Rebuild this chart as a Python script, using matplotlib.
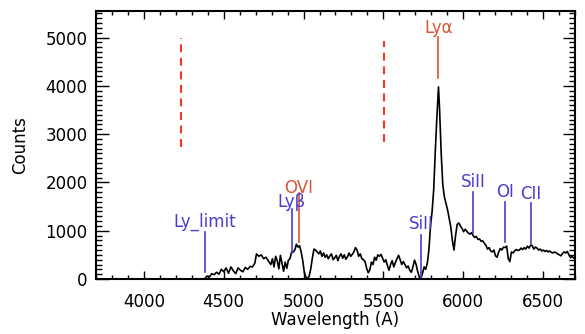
import matplotlib
matplotlib.use("Agg")
import matplotlib.pyplot as plt
from matplotlib.ticker import MultipleLocator

# Spectrum (wavelength in Angstrom, counts)
wave = [4380, 4395, 4410, 4425, 4440, 4455, 4470, 4485, 4500, 4515, 4530, 4545, 4560, 4575,
        4590, 4605, 4620, 4635, 4650, 4665, 4680, 4695, 4705, 4720, 4735, 4750, 4765, 4780,
        4795, 4805, 4815, 4825, 4835, 4845, 4855, 4865, 4875, 4885, 4895, 4905, 4915, 4925,
        4935, 4945, 4955, 4965, 4975, 4985, 4995, 5005, 5015, 5025, 5035, 5045, 5055, 5065,
        5075, 5085, 5095, 5105, 5115, 5125, 5135, 5145, 5155, 5165, 5175, 5185, 5195, 5205,
        5215, 5225, 5235, 5245, 5255, 5265, 5275, 5285, 5295, 5305, 5315, 5325, 5335, 5345,
        5355, 5365, 5375, 5385, 5395, 5405, 5415, 5425, 5435, 5445, 5455, 5465, 5475, 5485,
        5495, 5505, 5515, 5525, 5535, 5545, 5555, 5565, 5575, 5585, 5595, 5605, 5615, 5625,
        5635, 5645, 5655, 5665, 5675, 5685, 5695, 5705, 5715, 5725, 5735, 5745, 5755, 5765,
        5775, 5785, 5795, 5805, 5815, 5825, 5835, 5845, 5852, 5862, 5872, 5882, 5892, 5902,
        5912, 5922, 5932, 5942, 5952, 5962, 5972, 5982, 5992, 6002, 6012, 6022, 6032, 6042,
        6052, 6062, 6072, 6082, 6092, 6102, 6112, 6122, 6132, 6142, 6152, 6162, 6172, 6182,
        6192, 6202, 6212, 6222, 6232, 6242, 6252, 6262, 6272, 6282, 6292, 6302, 6312, 6322,
        6332, 6342, 6352, 6362, 6372, 6382, 6392, 6402, 6412, 6422, 6432, 6442, 6452, 6462,
        6472, 6482, 6492, 6502, 6512, 6522, 6532, 6542, 6552, 6562, 6572, 6582, 6592, 6602,
        6612, 6622, 6632, 6642, 6652, 6662, 6672, 6682, 6692, 6700]
counts = [0, 60, 40, 110, 90, 140, 100, 200, 150, 230, 120, 250, 170, 110,
          230, 180, 150, 240, 200, 260, 250, 330, 520, 470, 500, 420, 450, 370,
          300, 420, 250, 470, 380, 210, 490, 330, 160, 350, 220, 390, 420, 560,
          560, 600, 720, 660, 690, 560, 380, 130, 40, 0, 60, 210, 430, 620,
          600, 560, 520, 580, 470, 540, 450, 500, 420, 480, 520, 400, 440, 490,
          380, 470, 520, 430, 500, 410, 460, 540, 470, 510, 560, 650, 600, 470,
          520, 420, 400, 360, 220, 130, 190, 350, 300, 450, 390, 500, 470, 510,
          430, 350, 400, 280, 180, 300, 380, 250, 340, 420, 490, 400, 300, 360,
          300, 230, 270, 180, 140, 250, 390, 300, 150, 40, 10, 120, 250, 200,
          330, 600, 1100, 1400, 1850, 2650, 3350, 3980, 3500, 2600, 1950, 1700, 1560, 1430,
          1250, 1080, 800, 600, 900, 1130, 1160, 1100, 1050, 980, 1030, 990, 950, 930,
          960, 900, 860, 880, 820, 830, 780, 790, 740, 700, 620, 650, 580, 560,
          600, 480, 450, 560, 630, 600, 660, 650, 680, 420, 360, 560, 540, 580,
          610, 590, 600, 640, 610, 650, 620, 680, 640, 700, 690, 620, 660, 640,
          600, 620, 580, 600, 570, 590, 560, 580, 550, 540, 560, 540, 520, 500,
          480, 530, 560, 540, 570, 500, 440, 470, 430, 450]

# Line identifications
blue_names = ["Ly_limit", "Ly\u03b2", "SiII", "SiII", "OI", "CII"]
blue_wave = [4383, 4925, 5738, 6062, 6262, 6425]
blue_lo = [145, 540, 20, 950, 770, 720]
blue_hi = [980, 1450, 910, 1800, 1600, 1570]
blue_text_y = [1080, 1500, 1040, 1900, 1700, 1650]

red_names = ["OVI", "Ly\u03b1"]
red_wave = [4972, 5844]
red_lo = [770, 4166]
red_hi = [1780, 5015]
red_text_y = [1780, 5100]

# Dashed markers
dash_wave = [4231, 5506]
dash_lo = [2736, 2840]
dash_hi = [5000, 4933]

BLUE = "#4a3ccc"
RED_TXT = "#d6553a"
RED_LINE = "#e0502f"
DASH = "#ff3322"

plt.rcParams['font.family'] = ['DejaVu Sans']
fig = plt.figure(figsize=(5.85, 3.34), dpi=100)
ax = fig.add_axes([96/585, 1-279/334, (575-96)/585, (279-11)/334])

ax.plot(wave, counts, color='black', lw=1.2)

for n, w, lo, hi, ty in zip(blue_names, blue_wave, blue_lo, blue_hi, blue_text_y):
    ax.plot([w, w], [lo, hi], color=BLUE, lw=1.2)
    ax.text(w, ty, n, color=BLUE, fontsize=12, ha='center', va='baseline')

for n, w, lo, hi, ty in zip(red_names, red_wave, red_lo, red_hi, red_text_y):
    ax.plot([w, w], [lo, hi], color=RED_LINE, lw=1.2)
    ax.text(w, ty, n, color=RED_TXT, fontsize=12, ha='center', va='baseline')

for w, lo, hi in zip(dash_wave, dash_lo, dash_hi):
    ax.plot([w, w], [lo, hi], color=DASH, lw=1.5, dashes=(3.8, 2.7))

ax.set_xlim(3700, 6700)
ax.set_ylim(0, 5550)
ax.xaxis.set_major_locator(MultipleLocator(500))
ax.xaxis.set_minor_locator(MultipleLocator(100))
ax.yaxis.set_major_locator(MultipleLocator(1000))
ax.yaxis.set_minor_locator(MultipleLocator(100))
ax.tick_params(axis='both', which='both', direction='in', top=True, right=True,
               labelsize=12, width=1.0)
ax.tick_params(axis='x', which='major', length=6, pad=10)
ax.tick_params(axis='x', which='minor', length=3)
ax.tick_params(axis='y', which='major', length=9, pad=6)
ax.tick_params(axis='y', which='minor', length=4.5)
for s in ax.spines.values():
    s.set_linewidth(1.5)

ax.set_xlabel("Wavelength (A)", fontsize=12, labelpad=0)
ax.set_ylabel("Counts", fontsize=12, labelpad=12)

fig.savefig("out.png", dpi=100)
